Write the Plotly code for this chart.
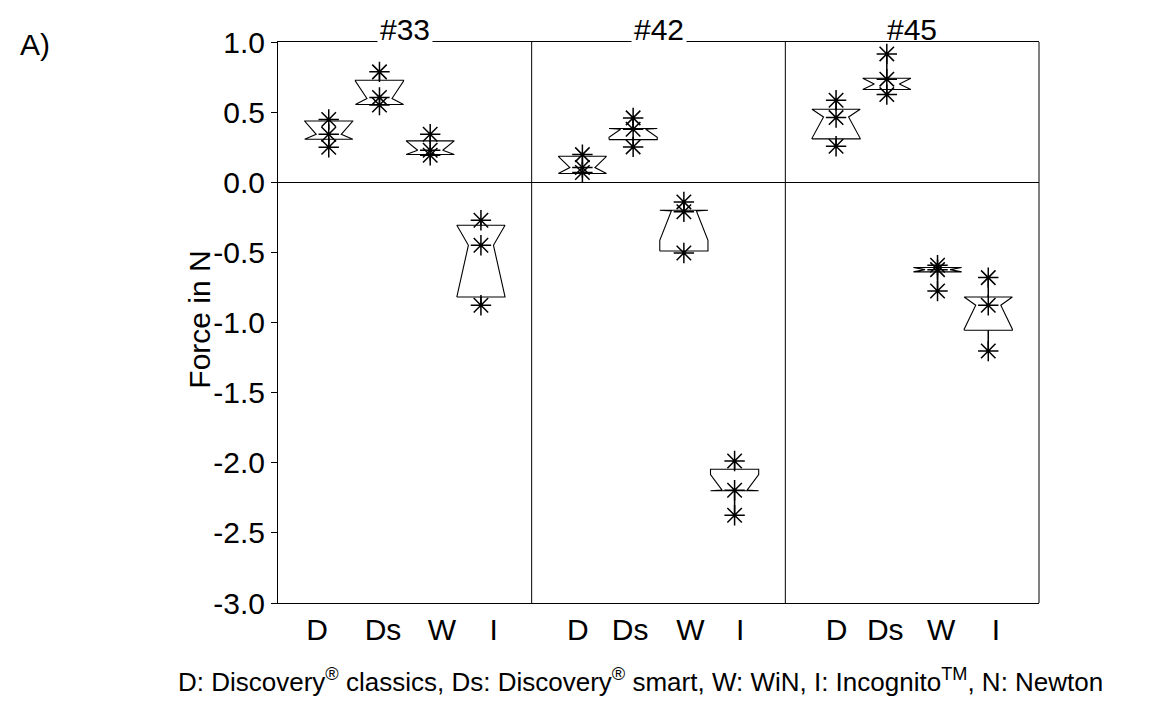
import plotly.graph_objects as go

# ---- data -------------------------------------------------------------
PANELS = ["#33", "#42", "#45"]
GROUPS = ["D", "Ds", "W", "I"]
GROUP_POS = [1, 2, 3, 4]

# tick label positions on each panel's category axis
TICK_POS = [
    [0.77, 2.07, 3.23, 4.25],
    [0.91, 1.94, 3.13, 4.11],
    [1.01, 1.97, 3.07, 4.15],
]

# box statistics (lower hinge, median, upper hinge) per panel, order D, Ds, W, I
Q1_33 = [0.307, 0.554, 0.198, -0.818]
MED_33 = [0.342, 0.597, 0.228, -0.449]
Q3_33 = [0.437, 0.727, 0.295, -0.307]

Q1_42 = [0.062, 0.304, -0.490, -2.200]
MED_42 = [0.105, 0.378, -0.205, -2.195]
Q3_42 = [0.185, 0.383, -0.200, -2.046]

Q1_45 = [0.309, 0.661, -0.639, -1.055]
MED_45 = [0.465, 0.700, -0.623, -0.877]
Q3_45 = [0.520, 0.742, -0.608, -0.818]

# individual measurements
PTS_33 = [[0.447, 0.342, 0.250], [0.787, 0.605, 0.551],
          [0.342, 0.228, 0.192], [-0.271, -0.449, -0.877]]
PTS_42 = [[0.197, 0.105, 0.070], [0.459, 0.378, 0.252],
          [-0.140, -0.210, -0.504], [-1.987, -2.196, -2.374]]
PTS_45 = [[0.585, 0.461, 0.257], [0.915, 0.735, 0.625],
          [-0.592, -0.623, -0.775], [-0.680, -0.877, -1.203]]

Y_TICKS = [1.0, 0.5, 0.0, -0.5, -1.0, -1.5, -2.0, -2.5, -3.0]

CAPTION = ("D: Discovery<sup>®</sup> classics, Ds: Discovery<sup>®</sup> smart, "
           "W: WiN, I: Incognito<sup>TM</sup>, N: Newton")

# ---- style ------------------------------------------------------------
FONT = "Liberation Sans, Arial, sans-serif"
HALF_W = 0.475        # half box width (category units)
NOTCH_W = 0.52        # notch waist as a fraction of the box width
NOTCH_FACTOR = 0.72   # notch half-span relative to the box height

stats = [
    (Q1_33, MED_33, Q3_33, PTS_33),
    (Q1_42, MED_42, Q3_42, PTS_42),
    (Q1_45, MED_45, Q3_45, PTS_45),
]

fig = go.Figure()

for p, (q1s, meds, q3s, pts) in enumerate(stats):
    xa = "x" if p == 0 else f"x{p + 1}"
    for c, q1, m, q3, vals in zip(GROUP_POS, q1s, meds, q3s, pts):
        ns = NOTCH_FACTOR * (q3 - q1)
        lo = max(q1, m - ns)
        hi = min(q3, m + ns)
        w, nw = HALF_W, HALF_W * NOTCH_W
        xs = [c - w, c - w, c - nw, c - w, c - w, c + w, c + w, c + nw, c + w, c + w, c - w]
        ys = [q1, lo, m, hi, q3, q3, hi, m, lo, q1, q1]
        fig.add_trace(go.Scatter(x=xs, y=ys, xaxis=xa, yaxis="y", mode="lines",
                                 line=dict(color="black", width=1.1),
                                 hoverinfo="skip", showlegend=False))
        # whiskers to the extreme values
        top, bot = max(vals), min(vals)
        fig.add_trace(go.Scatter(x=[c, c, None, c, c], y=[q3, top, None, q1, bot],
                                 xaxis=xa, yaxis="y", mode="lines",
                                 line=dict(color="black", width=1.5),
                                 hoverinfo="skip", showlegend=False))
        fig.add_trace(go.Scatter(x=[c] * len(vals), y=vals, xaxis=xa, yaxis="y",
                                 mode="markers",
                                 marker=dict(symbol="asterisk-open", size=17, color="black",
                                             line=dict(color="black", width=1.5)),
                                 showlegend=False))

axis_common = dict(range=[0, 5], showgrid=False, zeroline=False, showline=True,
                   mirror=True, linecolor="black", linewidth=1, ticks="",
                   tickfont=dict(family=FONT, size=30, color="black"))
thirds = [[0, 1 / 3], [1 / 3, 2 / 3], [2 / 3, 1]]
for p in range(3):
    key = "xaxis" if p == 0 else f"xaxis{p + 1}"
    fig.layout[key] = dict(axis_common, domain=thirds[p], anchor="y",
                           tickvals=TICK_POS[p], ticktext=GROUPS)

fig.update_layout(
    width=1159, height=702,
    paper_bgcolor="white", plot_bgcolor="white",
    margin=dict(l=278, r=120, t=42, b=99),
    font=dict(family=FONT, color="black"),
    yaxis=dict(range=[-3, 1], anchor="x", tickvals=Y_TICKS,
               ticktext=[f"{v:.1f}" for v in Y_TICKS],
               ticks="outside", ticklen=6, tickcolor="black",
               showline=True, linecolor="black", linewidth=1,
               showgrid=False, zeroline=True, zerolinecolor="black", zerolinewidth=1,
               tickfont=dict(family=FONT, size=30, color="black")),
)

# panel dividers and right frame
for xp in [1 / 3, 2 / 3, 1]:
    fig.add_shape(type="line", xref="paper", yref="paper", x0=xp, x1=xp, y0=0, y1=1,
                  line=dict(color="black", width=1))

for p, name in enumerate(PANELS):
    xa = "x" if p == 0 else f"x{p + 1}"
    fig.add_annotation(text=name, xref=f"{xa} domain", yref="paper", x=0.5, y=1.0,
                       yanchor="bottom", yshift=-7, showarrow=False,
                       bgcolor="white" if p < 2 else "rgba(0,0,0,0)", borderpad=2,
                       font=dict(family=FONT, size=30, color="black"))

# y-axis title
fig.add_annotation(text="Force in N", xref="paper", yref="paper", x=-0.1025, y=0.505,
                   xanchor="center", yanchor="middle", textangle=-90, showarrow=False,
                   font=dict(family=FONT, size=30, color="black"))

fig.add_annotation(text="A)", xref="paper", yref="paper", x=-0.319, y=0.995,
                   xanchor="center", yanchor="middle", showarrow=False,
                   font=dict(family=FONT, size=30, color="black"))
fig.add_annotation(text=CAPTION, xref="paper", yref="paper", x=0.476, y=-0.139,
                   xanchor="center", yanchor="middle", showarrow=False,
                   font=dict(family=FONT, size=26, color="black"))

fig.write_html("out.html")
